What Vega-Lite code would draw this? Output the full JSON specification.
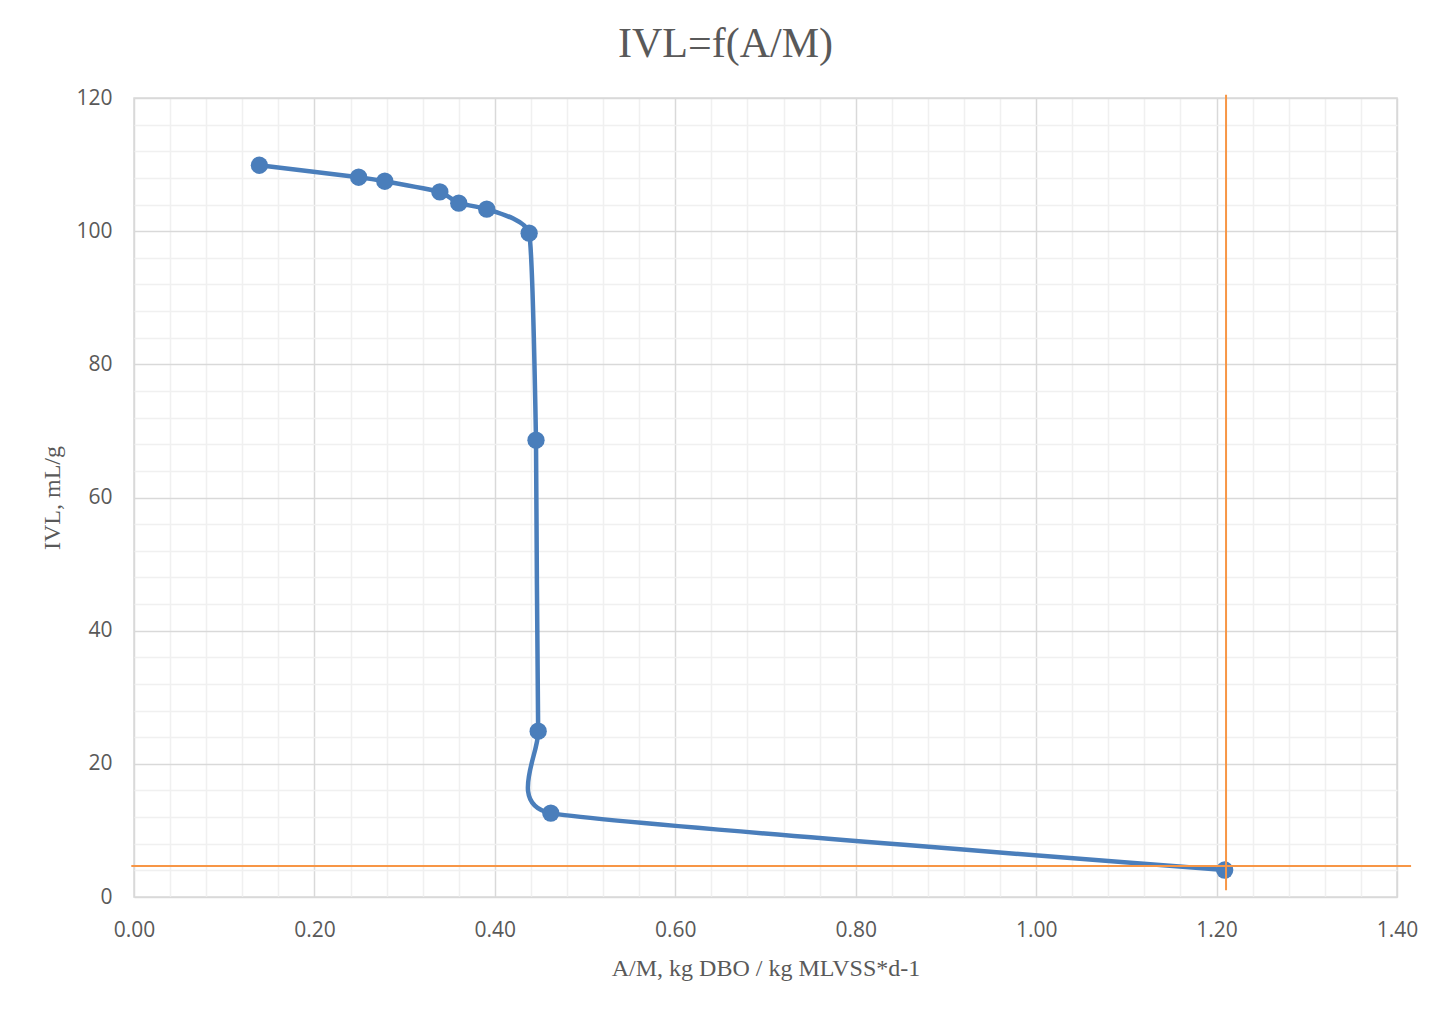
{
  "$schema": "https://vega.github.io/schema/vega-lite/v6.json",
  "autosize": {"type": "none"},
  "width": 1263,
  "height": 799,
  "padding": {"left": 134, "top": 98, "right": 45, "bottom": 113},
  "background": "white",
  "title": {
    "text": "IVL=f(A/M)",
    "font": "Liberation Serif",
    "fontSize": 42,
    "fontWeight": "normal",
    "color": "#595959",
    "anchor": "middle",
    "frame": "group",
    "dx": -40,
    "offset": 21
  },
  "config": {
    "view": {"stroke": "#d9d9d9", "strokeWidth": 1.5},
    "axis": {
      "labelFont": "Open Sans",
      "labelFontSize": 21,
      "labelColor": "#595959",
      "titleFont": "Liberation Serif",
      "titleFontSize": 24,
      "titleFontWeight": "normal",
      "titleColor": "#595959",
      "ticks": false,
      "domain": false,
      "gridWidth": 1.5,
      "tickCount": 200
    }
  },
  "datasets": {
    "curve": [
      {"i": 1, "am": 0.139, "ivl": 109.9},
      {"i": 2, "am": 0.249, "ivl": 108.1},
      {"i": 3, "am": 0.278, "ivl": 107.5},
      {"i": 4, "am": 0.339, "ivl": 105.9},
      {"i": 5, "am": 0.360, "ivl": 104.2},
      {"i": 6, "am": 0.391, "ivl": 103.3},
      {"i": 7, "am": 0.438, "ivl": 99.7},
      {"i": 8, "am": 0.4456, "ivl": 68.6},
      {"i": 9, "am": 0.448, "ivl": 24.9},
      {"i": 10, "am": 0.462, "ivl": 12.6},
      {"i": 11, "am": 1.209, "ivl": 4.05}
    ],
    "vline": [{"x": 1.2105, "y": 120.5, "y2": 1.0}],
    "hline": [{"y": 4.66, "x": -0.003, "x2": 1.4156}]
  },
  "layer": [
    {
      "data": {"name": "curve"},
      "mark": {"type": "line", "interpolate": "cardinal", "tension": 0.62, "color": "#4a7ebb", "strokeWidth": 4.5, "clip": false},
      "encoding": {
        "x": {
          "field": "am",
          "type": "quantitative",
          "scale": {"domain": [0, 1.4], "nice": false, "zero": false},
          "axis": {
            "title": "A/M, kg DBO / kg MLVSS*d-1",
            "values": [0,0.04,0.08,0.12,0.16,0.2,0.24,0.28,0.32,0.36,0.4,0.44,0.48,0.52,0.56,0.6,0.64,0.68,0.72,0.76,0.8,0.84,0.88,0.92,0.96,1.0,1.04,1.08,1.12,1.16,1.2,1.24,1.28,1.32,1.36,1.4],
            "labelExpr": "abs(datum.value*5 - round(datum.value*5)) < 1e-6 ? format(datum.value, '.2f') : ''",
            "gridColor": {"condition": {"test": "abs(datum.value*5 - round(datum.value*5)) < 1e-6", "value": "#d9d9d9"}, "value": "#f0f0f0"},
            "labelPadding": 22,
            "titlePadding": 16,
            "labelFlush": false,
            "labelOverlap": false
          }
        },
        "y": {
          "field": "ivl",
          "type": "quantitative",
          "scale": {"domain": [0, 120], "nice": false},
          "axis": {
            "title": "IVL, mL/g",
            "values": [0,4,8,12,16,20,24,28,32,36,40,44,48,52,56,60,64,68,72,76,80,84,88,92,96,100,104,108,112,116,120],
            "labelExpr": "datum.value % 20 === 0 ? format(datum.value, 'd') : ''",
            "gridColor": {"condition": {"test": "datum.value % 20 === 0", "value": "#d9d9d9"}, "value": "#f0f0f0"},
            "labelPadding": 22,
            "titlePadding": 11,
            "labelOverlap": false
          }
        },
        "order": {"field": "i", "type": "quantitative"}
      }
    },
    {
      "data": {"name": "curve"},
      "mark": {"type": "point", "filled": true, "opacity": 1, "color": "#4a7ebb", "size": 300, "clip": false},
      "encoding": {
        "x": {"field": "am", "type": "quantitative"},
        "y": {"field": "ivl", "type": "quantitative"}
      }
    },
    {
      "data": {"name": "vline"},
      "mark": {"type": "rule", "color": "#f79646", "strokeWidth": 2, "clip": false},
      "encoding": {
        "x": {"field": "x", "type": "quantitative"},
        "y": {"field": "y", "type": "quantitative"},
        "y2": {"field": "y2"}
      }
    },
    {
      "data": {"name": "hline"},
      "mark": {"type": "rule", "color": "#f79646", "strokeWidth": 2, "clip": false},
      "encoding": {
        "y": {"field": "y", "type": "quantitative"},
        "x": {"field": "x", "type": "quantitative"},
        "x2": {"field": "x2"}
      }
    }
  ]
}
